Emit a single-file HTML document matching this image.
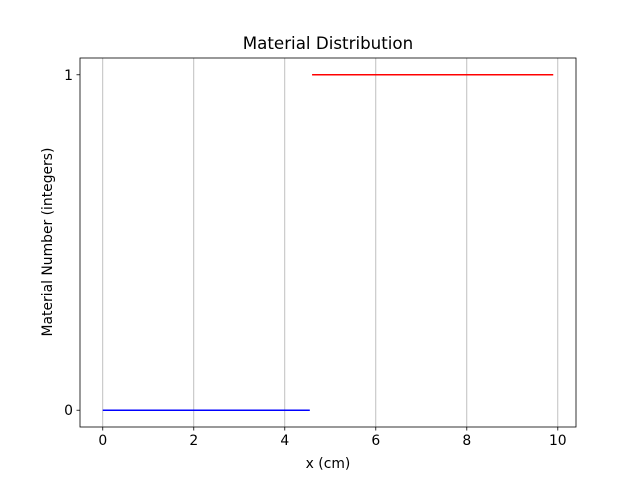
<!DOCTYPE html>
<html><head><meta charset="utf-8"><style>
body{margin:0;background:#fff;}
svg{display:block;font-family:"DejaVu Sans","Liberation Sans",sans-serif;}
</style></head><body>
<svg id="chart" width="640" height="480">
<rect x="0" y="0" width="640" height="480" fill="#fff"/>
<g id="grid"></g>
<g id="series"></g>
<rect x="80" y="58" width="496" height="369" fill="none" stroke="#000" stroke-width="0.8"/>
<g id="xticks"></g><g id="yticks"></g>
<text x="328" y="49" text-anchor="middle" font-size="16.7">Material Distribution</text>
<text x="328" y="468" text-anchor="middle" font-size="13.9">x (cm)</text>
<text transform="translate(52,242) rotate(-90)" text-anchor="middle" font-size="13.9">Material Number (integers)</text>
</svg>
<script>
const xTicks=[0,2,4,6,8,10];
const yTicks=[0,1];
const segStarts=[0,4.6];
const segEnds=[4.55,9.9];
const segValues=[0,1];
const segColors=['#0000ff','#ff0000'];
const L=80,R=576,T=58,B=427,xmin=-0.5,xmax=10.4,ymin=-0.05,ymax=1.05;
const sx=v=>L+(v-xmin)/(xmax-xmin)*(R-L);
const sy=v=>B-(v-ymin)/(ymax-ymin)*(B-T);
const NS='http://www.w3.org/2000/svg';
function mk(parent,tag,attrs){const e=document.createElementNS(NS,tag);for(const k in attrs)e.setAttribute(k,attrs[k]);document.getElementById(parent).appendChild(e);return e;}
xTicks.forEach(t=>{
  const g=mk('grid','line',{x1:sx(t),x2:sx(t),y1:T,y2:B,stroke:'#b0b0b0','stroke-width':0.8});
  
  
  const tk=mk('xticks','line',{x1:sx(t),x2:sx(t),y1:B,y2:B+3.5,stroke:'#000','stroke-width':0.8});
  
  
  const tx=mk('xticks','text',{x:sx(t),y:B+18,'text-anchor':'middle','font-size':13.9});
  tx.textContent=t;
  
  
});
yTicks.forEach(t=>{
  const tk=mk('yticks','line',{x1:L-3.5,x2:L,y1:sy(t),y2:sy(t),stroke:'#000','stroke-width':0.8});
  
  
  const tx=mk('yticks','text',{x:L-7,y:sy(t)+5,'text-anchor':'end','font-size':13.9});
  tx.textContent=t;
  
  
});
segStarts.forEach((s,i)=>{
  const l=mk('series','line',{x1:sx(s),x2:sx(segEnds[i]),y1:sy(segValues[i]),y2:sy(segValues[i]),stroke:segColors[i],'stroke-width':1.5});
  
  
});
</script>
</body></html>
